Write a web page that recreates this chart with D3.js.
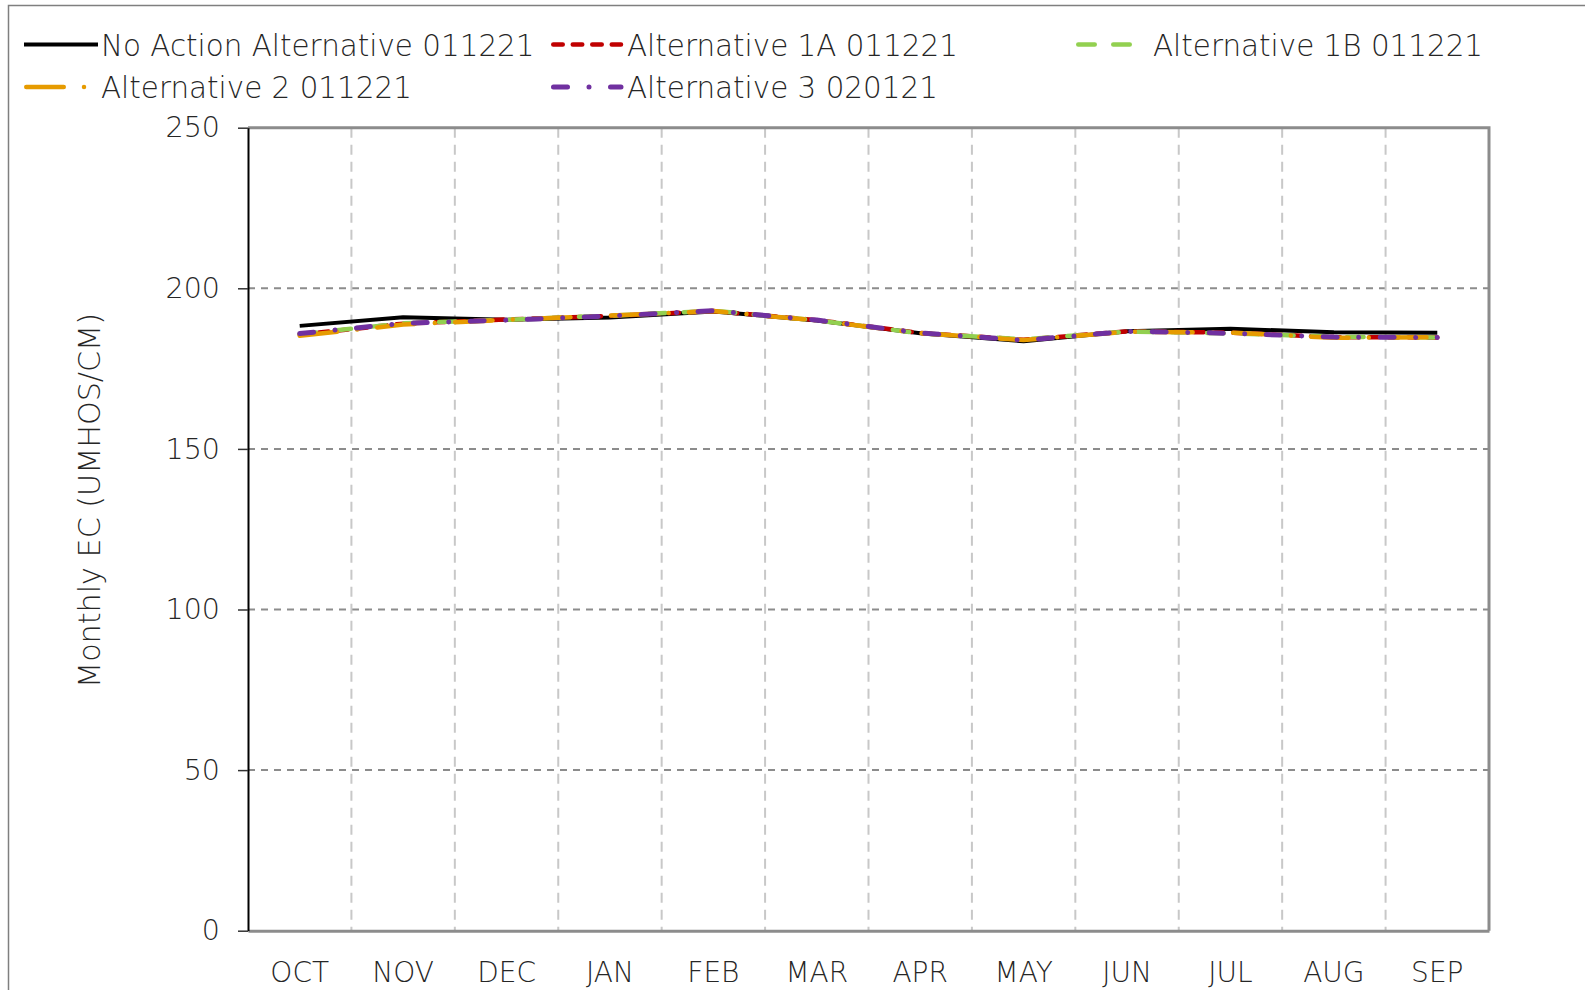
<!DOCTYPE html>
<html>
<head>
<meta charset="utf-8">
<script src="https://cdn.jsdelivr.net/npm/d3@7"></script>
<style>
  body { margin: 0; background: #fff; }
  svg { display: block; font-family: "DejaVu Sans", sans-serif; font-weight: 200; }
</style>
</head>
<body>
<div id="chart"></div>
<script>
// values
const months = ['OCT', 'NOV', 'DEC', 'JAN', 'FEB', 'MAR', 'APR', 'MAY', 'JUN', 'JUL', 'AUG', 'SEP'];
const yTicks = [0, 50, 100, 150, 200, 250];

const noAction = [188.3, 191.0, 190.2, 190.9, 192.8, 190.0, 186.0, 183.5, 186.6, 187.4, 186.3, 186.2];
const alt1A = [185.6, 189.0, 190.3, 191.4, 192.9, 190.1, 186.1, 184.0, 186.6, 186.2, 184.8, 184.7];
const alt1B = [185.7, 189.1, 190.2, 191.5, 193.0, 190.0, 186.0, 184.1, 186.5, 186.0, 184.9, 184.7];
const alt2 = [185.2, 188.7, 190.2, 191.5, 192.9, 190.0, 186.0, 183.9, 186.5, 186.2, 184.6, 184.8];
const alt3 = [185.9, 189.1, 190.1, 191.4, 193.0, 190.1, 186.1, 183.8, 186.6, 186.0, 184.8, 184.7];

const seriesNames = ['No Action Alternative 011221', 'Alternative 1A 011221', 'Alternative 1B 011221',
  'Alternative 2 011221', 'Alternative 3 020121'];
const seriesValues = [noAction, alt1A, alt1B, alt2, alt3];

const WIDTH = 1585;
const HEIGHT = 990;
const PLOT = { left: 248, right: 1489, top: 127.7, bottom: 930.7 };
const TEXT_COLOR = '#262626';

const styles = [
  { color: '#000000', width: 4, dash: null },
  { color: '#c00000', width: 4.5, dash: '9.5,10' },
  { color: '#92d050', width: 4.5, dash: '16.5,18.5' },
  { color: '#e69b00', width: 4.5, dash: '37.5,20.25,0.01,20.25' },
  { color: '#7030a0', width: 5, dash: '14,21.5,0.01,21.5' }
];

const series = seriesNames.map((name, i) => ({
  name: name,
  values: seriesValues[i].map((v, j) => ({ x: months[j], y: v })),
  style: styles[i]
}));

const svg = d3.select('#chart').append('svg')
  .attr('width', WIDTH)
  .attr('height', HEIGHT);

// outer chart border
svg.append('rect')
  .attr('x', 8.5).attr('y', 5.5)
  .attr('width', WIDTH + 20).attr('height', HEIGHT + 20)
  .attr('fill', 'none')
  .attr('stroke', '#7f7f7f')
  .attr('stroke-width', 1.5);

const xScale = d3.scaleBand()
  .domain(months)
  .range([PLOT.left, PLOT.right]);

const yScale = d3.scaleLinear()
  .domain([0, 250])
  .range([PLOT.bottom, PLOT.top]);

// gridlines
svg.append('g').attr('class', 'h-grid')
  .selectAll('line').data(yTicks.filter(t => t > 0 && t < 250)).enter().append('line')
  .attr('x1', PLOT.left).attr('x2', PLOT.right)
  .attr('y1', d => yScale(d)).attr('y2', d => yScale(d))
  .attr('stroke', '#8c8c8c')
  .attr('stroke-width', 2)
  .attr('stroke-dasharray', '7,6');

svg.append('g').attr('class', 'v-grid')
  .selectAll('line').data(months.slice(1)).enter().append('line')
  .attr('x1', d => xScale(d)).attr('x2', d => xScale(d))
  .attr('y1', PLOT.top).attr('y2', PLOT.bottom)
  .attr('stroke', '#c8c8c8')
  .attr('stroke-width', 2)
  .attr('stroke-dasharray', '10,7');

// top and right frame
svg.append('path')
  .attr('d', `M${PLOT.left},${PLOT.top}H${PLOT.right}V${PLOT.bottom}`)
  .attr('fill', 'none')
  .attr('stroke', '#8c8c8c')
  .attr('stroke-width', 3);

// series lines
const line = d3.line()
  .x(d => xScale(d.x) + xScale.bandwidth() / 2)
  .y(d => yScale(d.y));

svg.append('g').attr('class', 'series')
  .selectAll('path').data(series).enter().append('path')
  .attr('d', d => line(d.values))
  .attr('fill', 'none')
  .attr('stroke', d => d.style.color)
  .attr('stroke-width', d => d.style.width)
  .attr('stroke-dasharray', d => d.style.dash)
  .attr('stroke-linecap', d => d.style.dash ? 'round' : 'butt')
  .attr('stroke-linejoin', 'round');

// axes
const xAxis = svg.append('g')
  .attr('transform', `translate(0,${PLOT.bottom})`)
  .call(d3.axisBottom(xScale).tickSize(0).tickPadding(31.5));
xAxis.select('.domain').attr('stroke', '#8c8c8c').attr('stroke-width', 3);
xAxis.selectAll('text')
  .attr('font-family', '"DejaVu Sans", sans-serif')
  .attr('font-weight', 200)
  .attr('font-size', 28)
  .attr('fill', TEXT_COLOR);

const yAxis = svg.append('g')
  .attr('transform', `translate(${PLOT.left},0)`)
  .call(d3.axisLeft(yScale).tickValues(yTicks).tickSize(10).tickSizeOuter(0).tickPadding(18));
yAxis.select('.domain').attr('stroke', '#000').attr('stroke-width', 2);
yAxis.selectAll('.tick line').attr('stroke', '#333').attr('stroke-width', 1.5);
yAxis.selectAll('text')
  .attr('font-family', '"DejaVu Sans", sans-serif')
  .attr('font-weight', 200)
  .attr('font-size', 28.5)
  .attr('fill', TEXT_COLOR);

// y axis title
svg.append('text')
  .attr('transform', `translate(99.5,500.5) rotate(-90)`)
  .attr('text-anchor', 'middle')
  .attr('font-size', 30.2)
  .attr('fill', TEXT_COLOR)
  .text('Monthly EC (UMHOS/CM)');

// legend
const legendSlots = [
  { x: 24, x2: 98, tx: 101, y: 44.5 },
  { x: 551, x2: 621, tx: 627, y: 44.5 },
  { x: 1076, x2: 1137, tx: 1153, y: 44.5 },
  { x: 24, x2: 98, tx: 101, y: 87 },
  { x: 551, x2: 621, tx: 627, y: 87 }
];

const legend = svg.append('g').attr('class', 'legend')
  .selectAll('g').data(series).enter().append('g');

legend.append('line')
  .attr('x1', (d, i) => legendSlots[i].x + (d.style.dash ? d.style.width / 2 : 0))
  .attr('x2', (d, i) => legendSlots[i].x2)
  .attr('y1', (d, i) => legendSlots[i].y)
  .attr('y2', (d, i) => legendSlots[i].y)
  .attr('stroke', d => d.style.color)
  .attr('stroke-width', d => d.style.width)
  .attr('stroke-dasharray', d => d.style.dash)
  .attr('stroke-linecap', d => d.style.dash ? 'round' : 'butt');

legend.append('text')
  .attr('x', (d, i) => legendSlots[i].tx)
  .attr('y', (d, i) => legendSlots[i].y + 11)
  .attr('font-size', 29.4)
  .attr('fill', TEXT_COLOR)
  .text(d => d.name);
</script>
</body>
</html>
